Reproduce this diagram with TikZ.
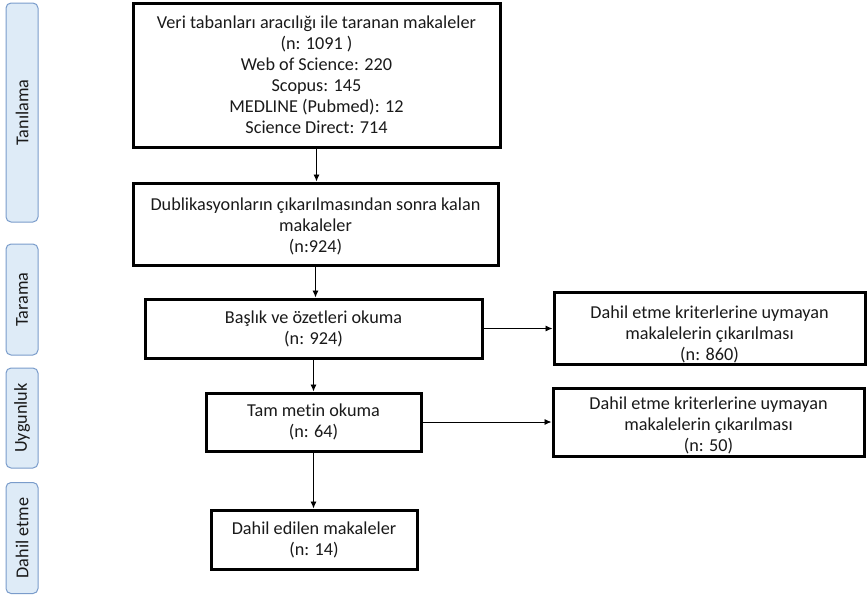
\documentclass[tikz,border=0pt]{standalone}
\usepackage{fontspec}
\setmainfont{Carlito}[Ligatures=NoCommon]
\usetikzlibrary{arrows.meta}
\definecolor{phasefill}{HTML}{DEEBF7}
\definecolor{phaseline}{HTML}{7A9CCB}
\definecolor{ink}{HTML}{1A1A1A}
\begin{document}
\begin{tikzpicture}[x=1pt,y=-1pt,
  box/.style={draw=black,line width=3pt,fill=white,align=center,text=ink,
    font=\fontsize{18.2}{21}\selectfont,inner sep=2pt},
  phase/.style={draw=phaseline,line width=1pt,fill=phasefill,rounded corners=5pt,
    minimum width=32pt},
  phasetext/.style={rotate=90,text=ink,font=\fontsize{18.2}{21}\selectfont},
  arr/.style={draw=black,line width=0.9pt,-{Latex[length=7pt,width=6pt]}}]
\useasboundingbox (0,0) rectangle (867,598);

% phase labels on the left
\node[phase,minimum height=219pt] (p1) at (22,112.5) {};
\node[phasetext] (t1) at (p1.center) {Tanılama};
\node[phase,minimum height=111pt] (p2) at (22,299.5) {};
\node[phasetext] (t2) at (p2.center) {Tarama};
\node[phase,minimum height=100pt] (p3) at (22,418) {};
\node[phasetext] (t3) at (p3.center) {Uygunluk};
\node[phase,minimum height=111pt] (p4) at (22,538) {};
\node[phasetext] (t4) at (p4.center) {Dahil etme};

% main column
\node[box,minimum width=367pt,minimum height=144pt] (b1) at (316.5,75)
  {Veri tabanları aracılığı ile taranan makaleler\\(n: 1091 )\\Web of Science: 220\\Scopus: 145\\MEDLINE (Pubmed): 12\\Science Direct: 714};
\node[box,minimum width=365pt,minimum height=82pt] (b2) at (315.5,224)
  {\rule{0pt}{17pt}Dublikasyonların çıkarılmasından sonra kalan\\makaleler\\(n:924)};
\node[box,minimum width=337pt,minimum height=59pt] (b3) at (313.5,328.5)
  {Başlık ve özetleri okuma\\(n: 924)};
\node[box,minimum width=215pt,minimum height=58pt] (b4) at (313.5,422)
  {Tam metin okuma\\(n: 64)};
\node[box,minimum width=206pt,minimum height=59pt] (b5) at (314,539.5)
  {Dahil edilen makaleler\\(n: 14)};

% exclusion boxes
\node[box,minimum width=311pt,minimum height=71pt] (r1) at (709.5,328.5)
  {\rule{0pt}{24pt}Dahil etme kriterlerine uymayan\\makalelerin çıkarılması\\(n: 860)};
\node[box,minimum width=311pt,minimum height=68pt] (r2) at (708.5,422.5)
  {\rule{0pt}{19pt}Dahil etme kriterlerine uymayan\\makalelerin çıkarılması\\(n: 50)};

% connectors
\draw[arr] (b1.south) -- (b1.south |- b2.north);
\draw[arr] (b2.south) -- (b2.south |- b3.north);
\draw[arr] (b3.south) -- (b3.south |- b4.north);
\draw[arr] (b4.south) -- (b4.south |- b5.north);
\draw[arr] (b3.east) -- (r1.west |- b3.east);
\draw[arr] (b4.east) -- (r2.west |- b4.east);
\end{tikzpicture}
\end{document}
